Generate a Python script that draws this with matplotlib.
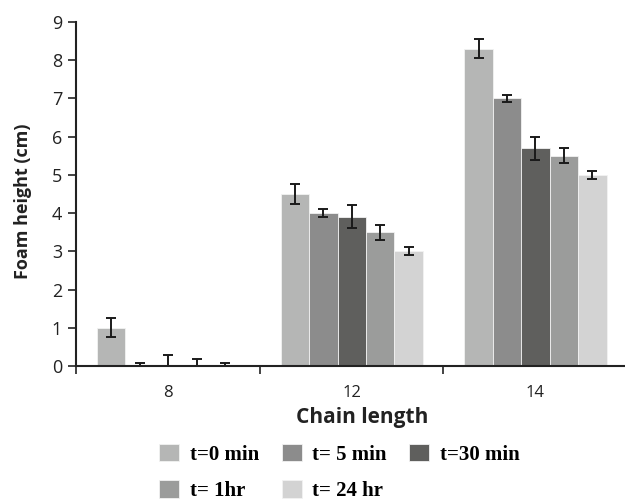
import numpy as np
import matplotlib.pyplot as plt
from matplotlib.ticker import FixedLocator, NullFormatter

# data
chain = ["8", "12", "14"]
series = ["t=0 min", "t= 5 min", "t=30 min", "t= 1hr", "t= 24 hr"]
heights = [
    [1.0, 4.5, 8.3],
    [0.0, 4.0, 7.0],
    [0.0, 3.9, 5.7],
    [0.0, 3.5, 5.5],
    [0.0, 3.0, 5.0],
]
errors = [
    [0.25, 0.25, 0.25],
    [0.09, 0.10, 0.10],
    [0.28, 0.30, 0.30],
    [0.18, 0.20, 0.20],
    [0.09, 0.10, 0.10],
]
colors = ["#b5b6b5", "#8c8c8c", "#5f5f5d", "#9b9c9b", "#d3d3d3"]

fig = plt.figure(figsize=(6.25, 5.03), dpi=100)
ax = fig.add_axes([0.1216, 0.2724, 0.8816, 0.6839])

gap = 0.114
w = 0.155
groups = np.arange(len(chain))
bars = []
for i, (h, e, c, lab) in enumerate(zip(heights, errors, colors, series)):
    x = groups + gap + w * (i + 0.5)
    b = ax.bar(x, h, width=w, color=c, edgecolor="#f2f2f2", linewidth=0.6, label=lab,
               yerr=e, capsize=3.7, error_kw=dict(ecolor="#1a1a1a", elinewidth=1.4, capthick=1.4))
    bars.append(b)

ax.set_xlim(0, 3)
ax.set_ylim(0, 9)
ax.set_yticks(range(10))
ax.xaxis.set_major_locator(FixedLocator([0, 1, 2, 3]))
ax.xaxis.set_major_formatter(NullFormatter())
ax.xaxis.set_minor_locator(FixedLocator(groups + 0.5))
ax.set_xticklabels(chain, minor=True)
ax.tick_params(axis="x", which="minor", length=0, pad=14, labelsize=12)
ax.tick_params(axis="x", which="major", length=6, width=1.2, color="#222222")
ax.tick_params(axis="y", length=6, width=1.2, color="#222222", labelsize=13, pad=4)
for lbl in ax.get_xticklabels(minor=True) + ax.get_yticklabels():
    lbl.set_family("Open Sans")
    lbl.set_color("#222222")

for s in ["top", "right"]:
    ax.spines[s].set_visible(False)
for s in ["left", "bottom"]:
    ax.spines[s].set_linewidth(1.5)
    ax.spines[s].set_color("#222222")

ax.set_ylabel("Foam height (cm)", fontsize=13, fontweight="bold", family="Open Sans",
              color="#222222")
ax.yaxis.set_label_coords(-0.08, 0.48)
ax.set_xlabel("Chain length", fontsize=15, fontweight="bold", family="Open Sans",
              color="#222222")
ax.xaxis.set_label_coords(0.519, -0.12)

# legend fills column by column: reorder so rows read like the reference
order = [0, 3, 1, 4, 2]
fig.legend([bars[i] for i in order], [series[i] for i in order],
           loc="upper left", bbox_to_anchor=(0.225, 0.155), ncol=3, frameon=False,
           prop=dict(family="Liberation Serif", weight="bold", size=15),
           handlelength=0.95, handleheight=0.9, handletextpad=0.5,
           columnspacing=1.1, labelspacing=0.75)

fig.savefig("out.png", dpi=100)
